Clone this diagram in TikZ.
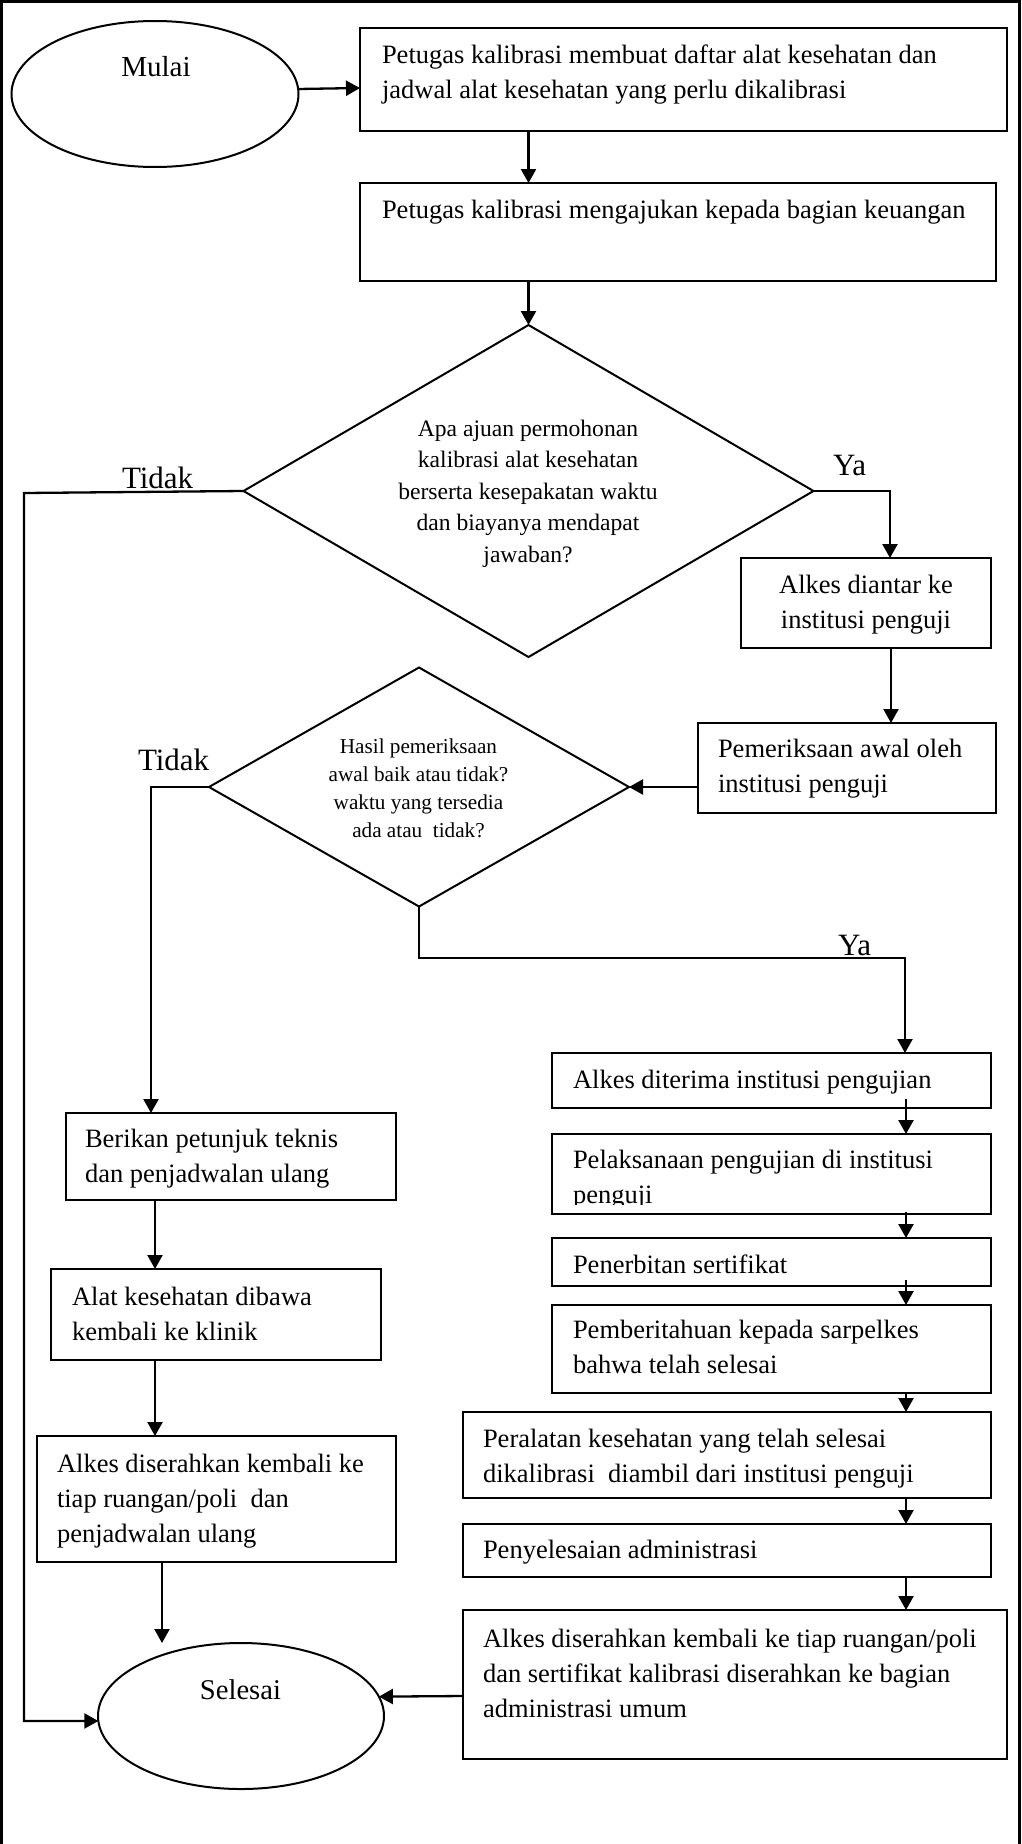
\documentclass[tikz,border=0pt]{standalone}
\usepackage{fontspec}
\setmainfont{Liberation Serif}
\usetikzlibrary{shapes.geometric,arrows.meta,calc}

% first-line strut so that a node's north edge sits a fixed distance above the first baseline
\newcommand\firststrut[1]{\rule{0pt}{#1pt}}
% a drawn box given by its left, top, right and bottom edges
\newcommand\flowbox[5]{%
  \node[box, minimum width={(#4-#2)*1pt}, minimum height={(#5-#3)*1pt}]
    (#1) at ({(#2+#4)/2},{(#3+#5)/2}) {};}

\tikzset{
  box/.style={draw, line width=2pt, rectangle, inner sep=0pt, outer sep=0pt},
  oval/.style={draw, line width=2pt, ellipse, inner sep=0pt, outer sep=0pt},
  decision/.style={draw, line width=2pt, diamond, inner sep=0pt, outer sep=0pt},
  txt/.style={inner sep=0pt, outer sep=0pt, align=left,
              font=\fontsize{26.5}{35}\selectfont},
  qtxt/.style={inner sep=0pt, outer sep=0pt, align=center},
  lbl/.style={inner sep=0pt, outer sep=0pt, anchor=base west,
              font=\fontsize{31}{36}\selectfont},
  arr/.style={line width=2.3pt, -{Triangle[length=14pt,width=15pt]}},
}

\begin{document}
\begin{tikzpicture}[x=1pt,y=-1pt]
\useasboundingbox (0,0) rectangle (1022,1844);

% page frame (open at the bottom)
\draw[line width=3pt] (1.5,1844) -- (1.5,1.5) -- (1019.5,1.5) -- (1019.5,1844);

% start and end terminals
\node[oval, minimum width=287pt, minimum height=146pt] (mulai) at (155,94) {};
\node[inner sep=0pt, anchor=base, font=\fontsize{29}{34}\selectfont] (mulaiT) at (156,77) {Mulai};
\node[oval, minimum width=286pt, minimum height=146pt] (sel) at (241,1716) {};
\node[inner sep=0pt, anchor=base, font=\fontsize{28.6}{34}\selectfont] (selT) at (240.5,1699) {Selesai};

% top process boxes
\flowbox{b1}{360}{28}{1007}{131}
\node[txt, anchor=north west] (b1t) at (382,43)
  {\firststrut{20}Petugas kalibrasi membuat daftar alat kesehatan dan\\jadwal alat kesehatan yang perlu dikalibrasi};
\flowbox{b2}{360}{183}{996}{281}
\node[txt, anchor=north west] (b2t) at (382,198)
  {\firststrut{20}Petugas kalibrasi mengajukan kepada bagian keuangan};

% first decision
\node[decision, minimum width=570pt, minimum height=332pt] (d1) at (528.5,491) {};
\node[qtxt, anchor=north, font=\fontsize{23.6}{31.5}\selectfont] (d1t) at (528,418)
  {\firststrut{18}Apa ajuan permohonan\\kalibrasi alat kesehatan\\berserta kesepakatan waktu\\dan biayanya mendapat\\jawaban?};

\flowbox{b3}{741}{558}{991}{648}
\node[txt, align=center, anchor=north] (b3t) at (866,573)
  {\firststrut{20}Alkes diantar ke\\institusi penguji};
\flowbox{b4}{698}{723}{996}{813}
\node[txt, anchor=north west] (b4t) at (718,737)
  {\firststrut{20}Pemeriksaan awal oleh\\institusi penguji};

% second decision
\node[decision, minimum width=420pt, minimum height=239pt] (d2) at (419,787) {};
\node[qtxt, anchor=north, font=\fontsize{21.2}{28}\selectfont] (d2t) at (418.5,737)
  {\firststrut{16}Hasil pemeriksaan\\awal baik atau tidak?\\waktu yang tersedia\\ada atau\ \ tidak?};

% left branch
\flowbox{b5}{66}{1113}{396}{1200}
\node[txt, anchor=north west] (b5t) at (85,1127)
  {\firststrut{20}Berikan petunjuk teknis\\dan penjadwalan ulang};
\flowbox{b7}{51}{1269}{381}{1360}
\node[txt, anchor=north west] (b7t) at (72,1285)
  {\firststrut{20}Alat kesehatan dibawa\\kembali ke klinik};
\flowbox{b9}{37}{1436}{396}{1562}
\node[txt, anchor=north west] (b9t) at (57,1452)
  {\firststrut{20}Alkes diserahkan kembali ke\\tiap ruangan/poli\ \ dan\\penjadwalan ulang};

% right branch
\flowbox{b6}{552}{1053}{991}{1108}
\node[txt, anchor=north west] (b6t) at (573,1068)
  {\firststrut{20}Alkes diterima institusi pengujian};
\begin{scope}
  \clip (552,1134) rectangle (991,1204);
  \node[txt, anchor=north west] (b8t) at (573,1148)
    {\firststrut{20}Pelaksanaan pengujian di institusi\\penguji};
\end{scope}
\flowbox{b8}{552}{1134}{991}{1214}
\flowbox{b10}{552}{1238}{991}{1286}
\node[txt, anchor=north west] (b10t) at (573,1253)
  {\firststrut{20}Penerbitan sertifikat};
\flowbox{b11}{552}{1305}{991}{1393}
\node[txt, anchor=north west] (b11t) at (573,1318)
  {\firststrut{20}Pemberitahuan kepada sarpelkes\\bahwa telah selesai};
\flowbox{b12}{463}{1412}{991}{1498}
\node[txt, anchor=north west] (b12t) at (483,1427)
  {\firststrut{20}Peralatan kesehatan yang telah selesai\\dikalibrasi\ \ diambil dari institusi penguji};
\flowbox{b13}{463}{1524}{991}{1577}
\node[txt, anchor=north west] (b13t) at (483,1538)
  {\firststrut{20}Penyelesaian administrasi};
\flowbox{b14}{463}{1610}{1007}{1759}
\node[txt, anchor=north west] (b14t) at (483,1627)
  {\firststrut{20}Alkes diserahkan kembali ke tiap ruangan/poli\\dan sertifikat kalibrasi diserahkan ke bagian\\administrasi umum};

% branch labels
\node[lbl] (tidak1) at (122,488) {Tidak};
\node[lbl] (ya1) at (833,475) {Ya};
\node[lbl] (tidak2) at (138,770) {Tidak};
\node[lbl] (ya2) at (838,955) {Ya};

% routing points
\coordinate (lrail) at (24,493);
\coordinate (ya2turn) at (905,958);
\coordinate (rc) at (906,0);
\coordinate (c3) at ($(b3.south)+(25,0)$);
\coordinate (c5) at ($(b5.south)+(-76,0)$);
\coordinate (c7) at ($(b7.south)+(-61,0)$);
\coordinate (c9) at ($(b9.south)+(-54.5,0)$);

% connectors
\draw[arr] (mulai.2.4) -- ($(b1.west)+(0,8.5)$);
\draw[arr] (b1.south -| d1.north) -- (b2.north -| d1.north);
\draw[arr] (b2.south -| d1.north) -- (d1.north);
\draw[arr] (d1.west) -- (lrail) |- (sel.182.4);
\draw[arr] (d1.east) -| ($(b3.north)+(24,0)$);
\draw[arr] (c3) -- (c3 |- b4.north);
\draw[arr] (b4.west |- d2.east) -- (d2.east);
\draw[arr] (d2.west) -| ($(b5.north)+(-80,0)$);
\draw[arr] (d2.south) |- (ya2turn) -- (ya2turn |- b6.north);
\draw[arr] (c5) -- (c5 |- b7.north);
\draw[arr] (c7) -- (c7 |- b9.north);
\draw[arr] (c9) -- (c9 |- sel.north);
\draw[arr] ($(b6.south -| rc)+(0,-9)$) -- (b8.north -| rc);
\draw[arr] ($(b8.south -| rc)+(0,-2)$) -- (b10.north -| rc);
\draw[arr] ($(b10.south -| rc)+(0,-6)$) -- (b11.north -| rc);
\draw[arr] (b11.south -| rc) -- (b12.north -| rc);
\draw[arr] (b12.south -| rc) -- (b13.north -| rc);
\draw[arr] (b13.south -| rc) -- (b14.north -| rc);
\draw[arr] ($(b14.west)+(0,11.5)$) -- (sel.8.3);
\end{tikzpicture}
\end{document}
